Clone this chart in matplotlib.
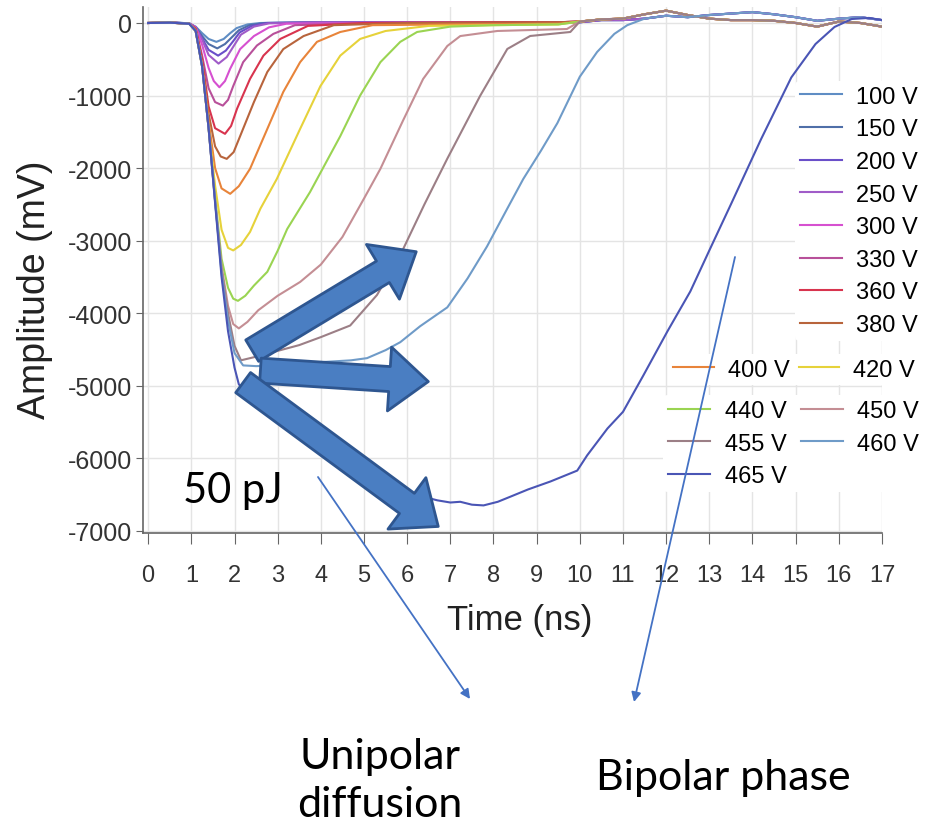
import matplotlib
matplotlib.use('agg')
import matplotlib.pyplot as plt
import numpy as np

plt.rcParams['font.family'] = ['Liberation Sans', 'DejaVu Sans']
plt.rcParams['axes.unicode_minus'] = False

# bias voltages and trace colours
labels = ['100 V', '150 V', '200 V', '250 V', '300 V', '330 V', '360 V', '380 V',
          '400 V', '420 V', '440 V', '450 V', '455 V', '460 V', '465 V']
colors = ['#5f8dc4', '#4f6fa8', '#6a4fc9', '#a05cc8', '#d650d0', '#b8509a', '#d8344e', '#b8643c',
          '#e8843a', '#e6d23a', '#9ad452', '#c48e94', '#9c7f86', '#6f9bc8', '#4a55b5']

# time (ns) / amplitude (mV) samples of each trace
t_100 = [0, 0.5, 0.95, 1.1, 1.25, 1.4, 1.58, 1.75, 1.9, 2.05, 2.3, 2.6, 4, 7, 9.5]
v_100 = [0, 10, -5, -50, -140, -220, -260, -220, -140, -70, -20, 0, 10, 10, 10]
t_150 = [0, 0.5, 0.95, 1.1, 1.25, 1.4, 1.6, 1.78, 1.95, 2.1, 2.35, 2.7, 4, 7, 9.5]
v_150 = [0, 10, -5, -60, -180, -290, -350, -290, -190, -100, -30, 0, 10, 10, 5]
t_200 = [0, 0.5, 0.95, 1.1, 1.25, 1.4, 1.62, 1.8, 1.97, 2.12, 2.4, 2.75, 4, 7, 9.5]
v_200 = [0, 5, -5, -60, -210, -370, -450, -380, -250, -130, -40, 0, 10, 10, 5]
t_250 = [0, 0.5, 0.95, 1.1, 1.25, 1.4, 1.63, 1.82, 2.0, 2.15, 2.45, 2.8, 4, 7, 9.5]
v_250 = [0, 5, -5, -60, -230, -440, -560, -470, -300, -160, -50, -5, 10, 10, 5]
t_300 = [0, 0.5, 0.95, 1.1, 1.25, 1.4, 1.52, 1.65, 1.78, 1.9, 2.13, 2.45, 2.8, 3.2, 5, 8, 9.5]
v_300 = [0, 5, -5, -60, -300, -620, -800, -886, -800, -630, -360, -180, -60, -10, 0, 10, 10]
t_330 = [0, 0.5, 0.95, 1.1, 1.25, 1.4, 1.55, 1.73, 1.85, 1.97, 2.2, 2.52, 2.9, 3.4, 5, 8, 9.5]
v_330 = [0, 5, -10, -70, -450, -900, -1090, -1139, -1060, -870, -540, -310, -150, -30, 0, 10, 10]
t_360 = [0, 0.5, 0.95, 1.1, 1.25, 1.4, 1.55, 1.78, 1.92, 2.06, 2.36, 2.67, 3.06, 3.7, 5, 8, 9.5]
v_360 = [0, 5, -10, -80, -500, -1150, -1450, -1528, -1420, -1180, -770, -450, -220, -40, 0, 10, 10]
t_380 = [0, 0.5, 0.95, 1.1, 1.25, 1.4, 1.55, 1.68, 1.82, 1.98, 2.13, 2.45, 2.76, 3.13, 3.6, 4.3, 6, 9.5]
v_380 = [0, 5, -10, -90, -550, -1250, -1700, -1840, -1873, -1780, -1560, -1090, -675, -360, -180, -30, 0, 10]
t_400 = [0, 0.5, 0.95, 1.1, 1.25, 1.4, 1.55, 1.7, 1.9, 2.1, 2.36, 2.76, 3.13, 3.52, 3.91, 4.45, 5.2, 7, 9.5]
v_400 = [0, 5, -10, -100, -580, -1350, -2000, -2280, -2355, -2250, -2010, -1460, -950, -540, -260, -124, -30, -20, -10]
t_420 = [0, 0.5, 0.95, 1.1, 1.25, 1.4, 1.55, 1.7, 1.85, 1.97, 2.15, 2.36, 2.6, 2.98, 3.52, 3.99, 4.45,
         4.91, 5.5, 6.5, 8, 9.5]
v_420 = [0, 5, -10, -110, -600, -1450, -2240, -2850, -3100, -3135, -3060, -2880, -2560, -2150, -1460, -870, -450,
         -220, -110, -40, -30, -20]
t_440 = [0, 0.5, 0.95, 1.1, 1.25, 1.4, 1.55, 1.7, 1.85, 1.97, 2.08, 2.25, 2.45, 2.76, 3.0, 3.22, 3.75,
         4.45, 4.91, 5.38, 5.84, 6.23, 7, 8, 9.5]
v_440 = [0, 5, -10, -110, -600, -1450, -2400, -3250, -3650, -3800, -3830, -3760, -3620, -3430, -3140, -2840, -2330,
         -1560, -1000, -540, -260, -124, -50, -30, -20]
t_450 = [0, 0.5, 0.95, 1.1, 1.25, 1.4, 1.55, 1.7, 1.85, 1.97, 2.1, 2.3, 2.55, 3.0, 3.52, 4.0, 4.5,
         5.0, 5.38, 5.9, 6.37, 6.93, 7.23, 8.09, 9.7]
v_450 = [0, 5, -10, -110, -600, -1450, -2450, -3350, -3900, -4150, -4210, -4120, -3960, -3760, -3570, -3330, -2950,
         -2420, -2010, -1350, -771, -317, -180, -110, -83]
t_455 = [0, 0.5, 0.95, 1.1, 1.25, 1.4, 1.55, 1.7, 1.85, 2.0, 2.15, 2.5, 3.0, 3.5, 4.0, 4.68, 5.3,
         5.84, 6.4, 6.93, 7.69, 8.32, 8.85, 9.78]
v_455 = [0, 5, -10, -110, -600, -1450, -2450, -3400, -4000, -4450, -4650, -4600, -4520, -4440, -4330, -4170, -3750,
         -3200, -2500, -1870, -1005, -358, -179, -124]
t_460 = [0, 0.5, 0.95, 1.1, 1.25, 1.4, 1.55, 1.7, 1.85, 2.0, 2.2, 2.5, 3.0, 3.5, 4.15, 4.7, 5.07, 5.5,
         5.84, 6.3, 6.93, 7.4, 7.85, 8.3, 8.69, 9.1, 9.48, 10.0, 10.4, 10.8, 11.1]
v_460 = [0, 5, -10, -110, -600, -1450, -2450, -3450, -4100, -4550, -4720, -4730, -4720, -4700, -4670, -4650, -4620, -4510,
         -4400, -4180, -3920, -3520, -3080, -2580, -2150, -1760, -1380, -740, -400, -150, -30]
t_465 = [0, 0.5, 0.95, 1.1, 1.25, 1.4, 1.55, 1.7, 1.85, 2.0, 2.1, 2.3, 2.6, 3.0, 3.45, 3.99, 4.5, 5.0,
         5.5, 6.0, 6.37, 6.7, 7.0, 7.23, 7.5, 7.77, 8.1, 8.39, 8.8, 9.32, 9.94, 10.17, 10.64, 11.0,
         11.47, 12.03, 12.56, 13.02, 13.5, 14.2, 14.9, 15.46, 15.9, 16.3, 16.7, 17.0]
v_465 = [0, 5, -10, -110, -600, -1450, -2480, -3500, -4250, -4750, -4980, -5120, -5290, -5470, -5690, -5910, -6100, -6260,
         -6380, -6480, -6530, -6580, -6610, -6600, -6640, -6650, -6600, -6530, -6430, -6320, -6170, -5960, -5590, -5360,
         -4860, -4250, -3700, -3110, -2500, -1600, -750, -290, -55, 55, 70, 40]

# late baseline ripple shared by the traces that have already recovered
tail_t = [10, 10.5, 11, 11.5, 12, 12.5, 13, 13.5, 14, 14.5, 15, 15.5, 16, 16.5, 17]
tail_warm = [20, 50, 60, 120, 170, 110, 60, 40, 40, 30, 0, -50, 20, 0, -50]
tail_cool = [10, 40, 40, 60, 100, 80, 110, 130, 150, 120, 80, 30, 60, 80, 40]

traces = [(t_100, v_100, tail_cool), (t_150, v_150, tail_cool), (t_200, v_200, tail_cool),
          (t_250, v_250, tail_cool), (t_300, v_300, tail_warm), (t_330, v_330, tail_warm),
          (t_360, v_360, tail_warm), (t_380, v_380, tail_warm), (t_400, v_400, tail_warm),
          (t_420, v_420, tail_warm), (t_440, v_440, tail_warm), (t_450, v_450, tail_warm),
          (t_455, v_455, tail_warm), (t_460, v_460, tail_cool), (t_465, v_465, None)]

fig = plt.figure(figsize=(9.34, 8.28), dpi=100)
ax = fig.add_axes([0.1531, 0.3551, 0.7912, 0.6352])

lines = []
for (t, v, tail), lab, c in zip(traces, labels, colors):
    t = list(t)
    v = list(v)
    if tail is not None:
        tt = np.array(tail_t)
        keep = tt > t[-1]
        t += list(tt[keep])
        v += list(np.array(tail)[keep])
    ln, = ax.plot(t, v, color=c, lw=1.5, label=lab)
    lines.append(ln)

ax.set_xlim(-0.12, 17)
ax.set_ylim(-7030, 220)
ax.set_xticks(range(0, 18))
ax.set_yticks(range(-7000, 1, 1000))
ax.grid(True, color='#e4e4e4', lw=1)
ax.set_axisbelow(True)
for s in ['top', 'right']:
    ax.spines[s].set_visible(False)
for s in ['left', 'bottom']:
    ax.spines[s].set_color('#666666')
    ax.spines[s].set_linewidth(1.2)
ax.tick_params(axis='x', length=8, color='#666666', labelsize=17, labelcolor='#333333', pad=14)
ax.tick_params(axis='y', length=5, color='#666666', labelsize=18, labelcolor='#333333', pad=3)
ax.set_xlabel('Time (ns)', fontsize=25, color='#222222', va='center')
ax.set_ylabel('Amplitude (mV)', fontsize=27, color='#222222', va='center')
ax.xaxis.set_label_coords(0.51, -0.164)
ax.yaxis.set_label_coords(-0.146, 0.464)

ax.text(0.8, -6600, '50 pJ', fontsize=30, family=['Lato', 'DejaVu Sans'], va='baseline')

# block arrows towards the three regimes
arrow_style = 'simple,head_length=1.4,head_width=2.3,tail_width=0.9'
for tail_pt, tip_pt in [((2.41, -4517), (6.21, -3153)),
                        ((2.60, -4792), (6.49, -4943)),
                        ((2.20, -4957), (6.72, -6940))]:
    ax.annotate('', xy=tip_pt, xytext=tail_pt,
                arrowprops=dict(arrowstyle=arrow_style, mutation_scale=20, fc='#4a7ec2',
                                ec='#2e5690', lw=2, shrinkA=0, shrinkB=0))

# legends
leg_kw = dict(frameon=True, facecolor='white', edgecolor='none', framealpha=1, fontsize=17,
              handlelength=1.8, handletextpad=0.6, labelspacing=0.45, borderpad=0.2,
              columnspacing=0.6, borderaxespad=0, bbox_transform=fig.transFigure, loc='upper left')
leg1 = ax.legend(lines[:8], labels[:8], bbox_to_anchor=(0.851, 0.901), **leg_kw)
ax.add_artist(leg1)
leg2 = ax.legend(lines[8:10], labels[8:10], ncol=2, bbox_to_anchor=(0.716, 0.5715),
                 **dict(leg_kw, columnspacing=0.4, handlelength=1.7))
ax.add_artist(leg2)
order = [10, 12, 14, 11, 13]
ax.legend([lines[i] for i in order], [labels[i] for i in order], ncol=2,
          bbox_to_anchor=(0.71, 0.5215), **leg_kw)

# overlay in pixel units for the callouts below the chart
ov = fig.add_axes([0, 0, 1, 1], zorder=5)
ov.set_xlim(0, 934)
ov.set_ylim(828, 0)
ov.axis('off')
thin = dict(arrowstyle='-|>', color='#4472c4', lw=1.3, mutation_scale=14, shrinkA=0, shrinkB=0)
ov.annotate('', xy=(470, 700), xytext=(318, 478), arrowprops=thin)
ov.annotate('', xy=(634, 703), xytext=(735, 258), arrowprops=thin)
ov.text(380, 781, 'Unipolar\ndiffusion', ha='center', va='center', fontsize=31, linespacing=1.3,
        family=['Lato', 'DejaVu Sans'])
ov.text(596, 778, 'Bipolar phase', ha='left', va='center', fontsize=31,
        family=['Lato', 'DejaVu Sans'])

fig.savefig('out.png', dpi=100, facecolor='white')
